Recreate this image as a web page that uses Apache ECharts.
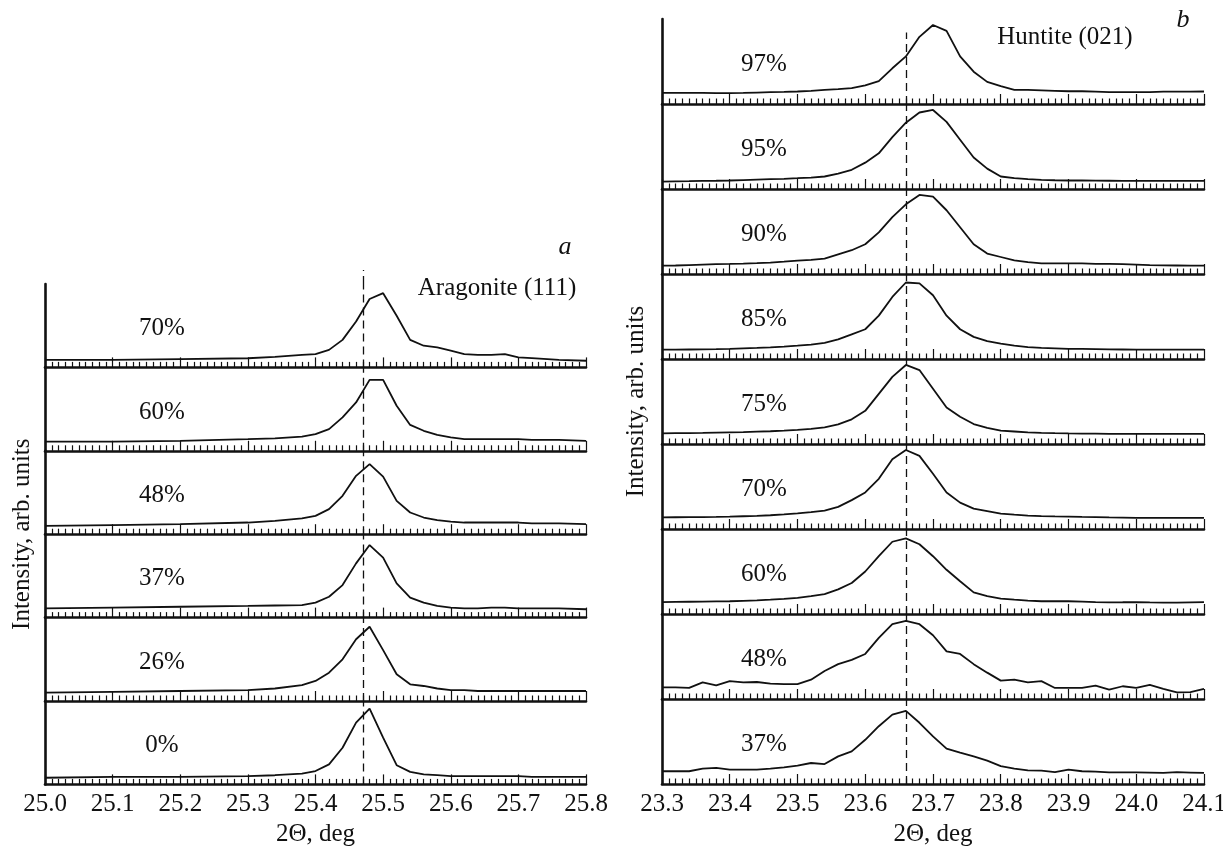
<!DOCTYPE html>
<html>
<head>
<meta charset="utf-8">
<script src="https://cdn.jsdelivr.net/npm/echarts@6/dist/echarts.min.js"></script>
<style>
  html, body { margin: 0; background: #fff; }
  #main { width: 1223px; height: 848px; }
</style>
</head>
<body>
<div id="main"></div>
<script>
// ---- panel a : Aragonite (111) ----
const xA = [25.0, 25.1, 25.2, 25.3, 25.34, 25.38, 25.40, 25.42, 25.44, 25.46, 25.48, 25.50, 25.52,
  25.54, 25.56, 25.58, 25.60, 25.62, 25.64, 25.66, 25.68, 25.70, 25.72, 25.76, 25.80];
const arag70 = [0.09, 0.09, 0.10, 0.11, 0.125, 0.15, 0.16, 0.21, 0.33, 0.55, 0.82, 0.89, 0.62,
  0.33, 0.26, 0.24, 0.20, 0.16, 0.15, 0.15, 0.16, 0.12, 0.11, 0.09, 0.08];
const arag60 = [0.11, 0.11, 0.12, 0.14, 0.15, 0.17, 0.20, 0.26, 0.40, 0.58, 0.85, 0.85, 0.54,
  0.31, 0.24, 0.19, 0.16, 0.14, 0.14, 0.14, 0.14, 0.14, 0.13, 0.13, 0.12];
const arag48 = [0.10, 0.11, 0.12, 0.14, 0.16, 0.19, 0.22, 0.30, 0.46, 0.70, 0.84, 0.69, 0.40,
  0.26, 0.20, 0.17, 0.15, 0.14, 0.14, 0.14, 0.14, 0.14, 0.13, 0.13, 0.12];
const arag37 = [0.11, 0.12, 0.13, 0.14, 0.145, 0.15, 0.18, 0.25, 0.39, 0.65, 0.87, 0.72, 0.41,
  0.24, 0.18, 0.14, 0.12, 0.11, 0.11, 0.12, 0.12, 0.11, 0.11, 0.11, 0.10];
const arag26 = [0.10, 0.11, 0.12, 0.13, 0.15, 0.19, 0.24, 0.34, 0.50, 0.74, 0.89, 0.61, 0.32,
  0.20, 0.18, 0.15, 0.13, 0.13, 0.12, 0.12, 0.12, 0.12, 0.12, 0.12, 0.12];
const arag0 = [0.08, 0.09, 0.09, 0.10, 0.11, 0.13, 0.16, 0.24, 0.44, 0.74, 0.91, 0.56, 0.23,
  0.15, 0.12, 0.11, 0.10, 0.10, 0.10, 0.10, 0.10, 0.10, 0.09, 0.09, 0.09];
const labelsA = ['70%', '60%', '48%', '37%', '26%', '0%'];

// ---- panel b : Huntite (021) ----
const xB = [23.30, 23.32, 23.34, 23.36, 23.38, 23.40, 23.42, 23.44, 23.46, 23.48, 23.50, 23.52,
  23.54, 23.56, 23.58, 23.60, 23.62, 23.64, 23.66, 23.68, 23.70, 23.72, 23.74, 23.76, 23.78,
  23.80, 23.82, 23.84, 23.86, 23.88, 23.90, 23.92, 23.94, 23.96, 23.98, 24.00, 24.02, 24.04,
  24.06, 24.08, 24.10];
const hunt97 = [0.13, 0.13, 0.13, 0.13, 0.128, 0.127, 0.13, 0.135, 0.14, 0.143, 0.147, 0.155,
  0.167, 0.175, 0.187, 0.22, 0.27, 0.42, 0.56, 0.79, 0.93, 0.86, 0.56, 0.38, 0.26,
  0.21, 0.167, 0.165, 0.16, 0.155, 0.15, 0.15, 0.145, 0.14, 0.14, 0.14, 0.14, 0.145,
  0.145, 0.145, 0.147];
const hunt95 = [0.087, 0.09, 0.092, 0.095, 0.097, 0.10, 0.105, 0.11, 0.115, 0.12, 0.127, 0.135,
  0.147, 0.18, 0.226, 0.31, 0.42, 0.61, 0.78, 0.90, 0.93, 0.79, 0.58, 0.37, 0.24,
  0.147, 0.127, 0.115, 0.107, 0.103, 0.10, 0.10, 0.098, 0.097, 0.096, 0.095, 0.095, 0.095,
  0.095, 0.095, 0.095];
const hunt90 = [0.098, 0.10, 0.105, 0.11, 0.115, 0.118, 0.122, 0.127, 0.135, 0.145, 0.157, 0.165,
  0.18, 0.23, 0.28, 0.35, 0.49, 0.67, 0.82, 0.93, 0.91, 0.75, 0.55, 0.35, 0.24,
  0.20, 0.16, 0.14, 0.125, 0.125, 0.125, 0.125, 0.12, 0.118, 0.115, 0.11, 0.105, 0.102,
  0.10, 0.098, 0.098];
const hunt85 = [0.11, 0.11, 0.112, 0.114, 0.116, 0.12, 0.125, 0.13, 0.137, 0.145, 0.157, 0.17,
  0.19, 0.23, 0.29, 0.35, 0.51, 0.73, 0.90, 0.89, 0.75, 0.51, 0.35, 0.26, 0.21,
  0.18, 0.157, 0.14, 0.13, 0.125, 0.12, 0.118, 0.116, 0.114, 0.112, 0.11, 0.11, 0.11,
  0.11, 0.11, 0.11];
const hunt75 = [0.125, 0.127, 0.129, 0.131, 0.134, 0.137, 0.14, 0.145, 0.15, 0.157, 0.165, 0.178,
  0.196, 0.23, 0.29, 0.39, 0.59, 0.79, 0.93, 0.87, 0.65, 0.43, 0.32, 0.235, 0.19,
  0.157, 0.147, 0.137, 0.132, 0.128, 0.125, 0.123, 0.122, 0.12, 0.119, 0.118, 0.118, 0.118,
  0.118, 0.118, 0.118];
const hunt70 = [0.137, 0.138, 0.139, 0.14, 0.142, 0.145, 0.15, 0.155, 0.162, 0.172, 0.184, 0.198,
  0.216, 0.26, 0.34, 0.43, 0.59, 0.82, 0.93, 0.86, 0.65, 0.43, 0.31, 0.24, 0.21,
  0.18, 0.168, 0.157, 0.152, 0.148, 0.145, 0.142, 0.14, 0.137, 0.135, 0.13, 0.13, 0.13,
  0.13, 0.13, 0.13];
const hunt60 = [0.14, 0.142, 0.144, 0.146, 0.148, 0.15, 0.155, 0.16, 0.168, 0.178, 0.19, 0.21,
  0.235, 0.29, 0.365, 0.50, 0.68, 0.85, 0.89, 0.82, 0.68, 0.52, 0.385, 0.255, 0.21,
  0.18, 0.168, 0.157, 0.15, 0.15, 0.15, 0.145, 0.14, 0.137, 0.138, 0.14, 0.137, 0.135,
  0.133, 0.137, 0.14];
const hunt48 = [0.137, 0.137, 0.13, 0.196, 0.16, 0.21, 0.196, 0.20, 0.18, 0.176, 0.176, 0.227,
  0.33, 0.41, 0.46, 0.53, 0.72, 0.88, 0.92, 0.88, 0.75, 0.56, 0.53, 0.41, 0.31,
  0.216, 0.227, 0.196, 0.21, 0.13, 0.13, 0.13, 0.157, 0.11, 0.15, 0.13, 0.165, 0.12,
  0.078, 0.082, 0.118];
const hunt37 = [0.15, 0.15, 0.15, 0.18, 0.19, 0.17, 0.17, 0.17, 0.18, 0.196, 0.216, 0.247,
  0.235, 0.325, 0.384, 0.52, 0.68, 0.816, 0.86, 0.72, 0.56, 0.416, 0.37, 0.325, 0.275,
  0.21, 0.18, 0.16, 0.157, 0.14, 0.17, 0.15, 0.145, 0.137, 0.137, 0.137, 0.135, 0.13,
  0.14, 0.135, 0.13];
const labelsB = ['97%', '95%', '90%', '85%', '75%', '70%', '60%', '48%', '37%'];

const FONT = '"Liberation Serif", "DejaVu Serif", serif';
const INK = '#111';

const grids = [], xAxes = [], yAxes = [], series = [], graphics = [];

function dashLine(peak, yTo) {
  return {
    silent: true, symbol: 'none', label: { show: false },
    lineStyle: { type: [8, 5], color: INK, width: 1.3 },
    data: yTo == null ? [{ xAxis: peak }] : [[{ coord: [peak, 0] }, { coord: [peak, yTo] }]]
  };
}

function addPanel(xs, curves, labels, p) {
  // optional strip above the panel, only to carry the dashed reference line
  if (p.extra) {
    const idx = grids.length;
    grids.push({ left: p.left, width: p.width, top: p.top - p.extra, height: p.extra, outerBoundsMode: 'none' });
    xAxes.push({ type: 'value', gridIndex: idx, min: p.min, max: p.max, show: false });
    yAxes.push({ type: 'value', gridIndex: idx, min: 0, max: 1, show: false });
    series.push({ type: 'line', xAxisIndex: idx, yAxisIndex: idx, data: [], markLine: dashLine(p.peak) });
  }
  curves.forEach((ys, i) => {
    const idx = grids.length;
    const top = p.top + i * p.h;
    const last = i === curves.length - 1;
    grids.push({ left: p.left, width: p.width, top: top, height: p.h, outerBoundsMode: 'none' });
    xAxes.push({
      type: 'value', gridIndex: idx, min: p.min, max: p.max, interval: 0.1,
      axisLine: { show: true, lineStyle: { color: INK, width: 2.6 } },
      axisTick: { show: true, inside: true, length: 10, lineStyle: { color: INK, width: 1.2 } },
      minorTick: { show: true, splitNumber: 10, length: 5.5, lineStyle: { color: INK, width: 1.2 } },
      splitLine: { show: false },
      axisLabel: {
        show: last, color: INK, fontFamily: FONT, fontSize: 25, margin: 8,
        formatter: v => v.toFixed(1)
      },
      name: last ? '2Θ, deg' : '',
      nameLocation: 'middle', nameGap: 38,
      nameTextStyle: { color: INK, fontFamily: FONT, fontSize: 25 }
    });
    yAxes.push({
      type: 'value', gridIndex: idx, min: 0, max: 1,
      axisLine: { show: true, lineStyle: { color: INK, width: 2.6 } },
      axisTick: { show: false }, axisLabel: { show: false }, splitLine: { show: false }
    });
    series.push({
      type: 'line', xAxisIndex: idx, yAxisIndex: idx,
      data: xs.map((x, k) => [x, ys[k]]),
      symbol: 'none',
      lineStyle: { color: INK, width: 1.8 },
      markLine: dashLine(p.peak, i === 0 ? p.firstTo : null)
    });
    graphics.push({
      type: 'text', x: p.labelX, y: top + p.h / 2 + 3,
      style: { text: labels[i], font: '25px ' + FONT, fill: INK, align: 'center', verticalAlign: 'middle' }
    });
  });
  graphics.push({
    type: 'text', x: p.titleX, y: p.top + p.h * curves.length / 2, rotation: Math.PI / 2,
    style: { text: 'Intensity, arb. units', font: '25px ' + FONT, fill: INK, align: 'center', verticalAlign: 'middle' }
  });
}

addPanel(xA, [arag70, arag60, arag48, arag37, arag26, arag0], labelsA,
  { left: 45, width: 541, top: 284, h: 83.4, min: 25.0, max: 25.8, peak: 25.47,
    labelX: 162, titleX: 22, extra: 14, firstTo: null });
addPanel(xB, [hunt97, hunt95, hunt90, hunt85, hunt75, hunt70, hunt60, hunt48, hunt37], labelsB,
  { left: 662, width: 542, top: 19, h: 85, min: 23.3, max: 24.1, peak: 23.66,
    labelX: 764, titleX: 636, extra: 0, firstTo: 0.84 });

graphics.push(
  { type: 'text', x: 497, y: 288, style: { text: 'Aragonite (111)', font: '25px ' + FONT, fill: INK, align: 'center', verticalAlign: 'middle' } },
  { type: 'text', x: 565, y: 247, style: { text: 'a', font: 'italic 26px ' + FONT, fill: INK, align: 'center', verticalAlign: 'middle' } },
  { type: 'text', x: 1065, y: 37, style: { text: 'Huntite (021)', font: '25px ' + FONT, fill: INK, align: 'center', verticalAlign: 'middle' } },
  { type: 'text', x: 1183, y: 20, style: { text: 'b', font: 'italic 26px ' + FONT, fill: INK, align: 'center', verticalAlign: 'middle' } }
);

const chart = echarts.init(document.getElementById('main'), null, { renderer: 'canvas' });
chart.setOption({
  animation: false,
  backgroundColor: '#fff',
  grid: grids,
  xAxis: xAxes,
  yAxis: yAxes,
  series: series,
  graphic: graphics
});
</script>
</body>
</html>
